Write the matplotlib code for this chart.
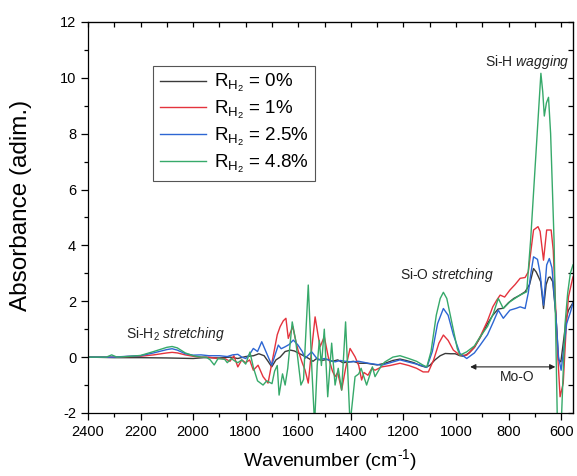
"""
    FTIR absorbance spectra for several hydrogen dilution ratios
"""

import matplotlib
matplotlib.use("Agg")
import matplotlib.pyplot as plt
from matplotlib.ticker import MultipleLocator

plt.rcParams["font.family"] = ["Liberation Sans", "DejaVu Sans"]
plt.rcParams["mathtext.fontset"] = "custom"
plt.rcParams["mathtext.rm"] = "Liberation Sans"
plt.rcParams["mathtext.it"] = "Liberation Sans:italic"
plt.rcParams["axes.unicode_minus"] = False

# R_H2 = 0%
wn_0 = [2400, 2300, 2200, 2100, 2000, 1960, 1900, 1860, 1830, 1800, 1770, 1750, 1730,
        1715, 1701, 1685, 1669, 1650, 1630, 1615, 1600, 1580, 1560, 1544, 1530, 1510,
        1490, 1470, 1450, 1430, 1410, 1390, 1370, 1340, 1300, 1270, 1240, 1213, 1190,
        1160, 1137, 1115, 1100, 1080, 1060, 1041, 1020, 1003, 985, 970, 950, 930, 908,
        880, 860, 840, 820, 800, 780, 760, 737, 720, 705, 695, 686, 678, 667, 657, 648,
        642, 632, 620, 610, 601, 592, 580, 572, 555]
abs_0 = [0, -0.02, -0.02, -0.03, -0.05, -0.02, -0.03, 0.0, -0.05, 0.02, 0.05, 0.12, 0.05,
         -0.15, -0.35, -0.1, 0.0, 0.2, 0.25, 0.22, 0.15, 0.05, -0.05, -0.15, -0.05, -0.12,
         -0.08, -0.15, -0.1, -0.2, -0.18, -0.15, -0.22, -0.22, -0.28, -0.22, -0.12, -0.07,
         -0.12, -0.2, -0.3, -0.36, -0.3, -0.1, 0.05, 0.13, 0.12, 0.12, 0.05, 0.03, 0.15,
         0.35, 0.7, 1.2, 1.5, 1.72, 1.75, 1.95, 2.1, 2.2, 2.34, 2.6, 3.17, 3.05, 2.87, 2.7,
         1.74, 2.6, 2.85, 2.87, 2.7, 1.5, -0.1, -0.17, 0.5, 1.4, 1.68, 1.95]

# R_H2 = 1%
wn_1 = [2400, 2300, 2250, 2200, 2150, 2100, 2080, 2060, 2030, 2000, 1970, 1940, 1910,
        1880, 1860, 1845, 1830, 1815, 1800, 1785, 1771, 1753, 1734, 1715, 1696, 1680,
        1669, 1657, 1647, 1638, 1631, 1621, 1610, 1601, 1585, 1574, 1562, 1550, 1536,
        1525, 1517, 1501, 1486, 1470, 1460, 1450, 1435, 1420, 1403, 1384, 1370, 1359,
        1350, 1335, 1320, 1308, 1283, 1250, 1213, 1180, 1150, 1125, 1105, 1085, 1065,
        1048, 1030, 1010, 985, 959, 930, 908, 880, 860, 845, 832, 815, 795, 775, 756,
        737, 725, 715, 705, 688, 680, 667, 655, 638, 630, 614, 604, 592, 580, 572, 555]
abs_1 = [0, 0.0, 0.02, 0.03, 0.08, 0.15, 0.17, 0.15, 0.08, 0.03, 0.0, 0.0, -0.05,
         -0.05, -0.15, 0.05, -0.35, -0.1, -0.2, -0.1, -0.47, -0.29, -0.7, -0.93, 0.01, 0.8,
         1.09, 1.3, 1.39, 0.67, 0.86, 1.09, 0.6, 0.25, -0.2, -0.47, -0.93, 0.2, 1.44,
         0.8, 0.37, 0.73, 0.01, -0.5, -0.7, -0.55, -1.18, -0.4, 0.31, 0.01, -0.3, -0.82,
         -0.55, -0.65, -0.4, -0.47, -0.35, -0.3, -0.22, -0.3, -0.4, -0.53, -0.53, -0.1, 0.5,
         0.79, 0.6, 0.25, 0.07, 0.07, 0.35, 0.73, 1.3, 1.8, 2.04, 2.22, 2.15, 2.4, 2.6, 2.82,
         2.85, 3.05, 3.8, 4.55, 4.67, 4.5, 3.47, 4.55, 4.55, 3.83, 0.25, -1.42, -0.93, 1.2,
         2.16, 2.87]

# R_H2 = 2.5%
wn_25 = [2400, 2300, 2250, 2200, 2150, 2100, 2080, 2060, 2030, 2000, 1970, 1940, 1900,
         1870, 1850, 1830, 1815, 1800, 1785, 1771, 1755, 1739, 1720, 1701, 1676, 1665,
         1650, 1635, 1619, 1601, 1585, 1574, 1549, 1525, 1500, 1480, 1460, 1440, 1420,
         1397, 1370, 1333, 1283, 1250, 1213, 1180, 1150, 1125, 1111, 1090, 1070, 1048,
         1030, 1010, 985, 959, 930, 908, 880, 858, 839, 820, 795, 770, 756, 737, 725, 715,
         705, 690, 680, 667, 655, 645, 635, 620, 610, 600, 590, 579, 565, 555]
abs_25 = [0, 0.0, 0.03, 0.05, 0.15, 0.27, 0.3, 0.25, 0.12, 0.07, 0.08, 0.05, 0.05,
          0.02, 0.08, 0.1, 0.0, -0.05, 0.1, 0.31, 0.2, 0.55, 0.13, -0.29, 0.43, 0.3,
          0.37, 0.45, 0.61, 0.43, 0.2, -0.04, 0.19, -0.1, -0.05, -0.12, -0.17, -0.12, -0.15,
          -0.17, -0.15, -0.22, -0.29, -0.2, -0.1, -0.18, -0.25, -0.32, -0.37, 0.2, 1.2, 1.74,
          1.5, 0.8, 0.13, -0.05, 0.15, 0.43, 0.8, 1.26, 1.68, 1.39, 1.68, 1.75, 1.8, 1.74,
          2.3, 3.0, 3.59, 3.5, 3.0, 1.86, 3.3, 3.53, 3.2, 1.5, 0.01, -0.47, 0.3, 1.2, 1.6,
          1.93]

# R_H2 = 4.8%
wn_48 = [2400, 2330, 2310, 2290, 2250, 2200, 2150, 2100, 2080, 2060, 2030, 2000, 1970,
         1950, 1935, 1920, 1905, 1880, 1870, 1855, 1840, 1830, 1815, 1800, 1784, 1770,
         1755, 1734, 1720, 1700, 1690, 1680, 1673, 1660, 1650, 1640, 1623, 1610, 1600,
         1590, 1580, 1562, 1548, 1538, 1528, 1520, 1512, 1501, 1488, 1473, 1460, 1448,
         1435, 1420, 1403, 1384, 1370, 1361, 1340, 1318, 1308, 1283, 1270, 1240, 1213,
         1180, 1150, 1125, 1111, 1095, 1075, 1060, 1048, 1035, 1015, 995, 985, 959, 930,
         908, 880, 858, 839, 820, 795, 760, 731, 716, 677, 670, 664, 656, 648, 640, 627,
         614, 600, 590, 585, 575, 565, 555]
abs_48 = [0, 0.0, 0.08, 0.0, 0.02, 0.06, 0.2, 0.35, 0.38, 0.33, 0.15, 0.05, 0.0,
          0.0, -0.1, -0.28, -0.05, -0.08, -0.2, -0.05, -0.15, -0.2, -0.1, -0.25, 0.18, -0.4,
          -0.85, -1.0, -0.85, -0.95, -0.5, -0.3, -1.36, -0.6, -1.0, -0.4, 1.26, 0.6, -0.2,
          -1.0, -0.8, 2.58, -0.5, -2.4, -0.3, 0.6, -0.3, 1.0, -1.42, 0.5, -1.0, -0.4,
          -1.18, 1.26, -2.4, -0.7, -0.6, -0.4, -1.0, -0.35, -0.7, -0.29, -0.17, 0.0, 0.05,
          -0.05, -0.15, -0.29, -0.35, 0.2, 1.5, 2.1, 2.32, 2.1, 1.2, 0.3, 0.07, 0.19, 0.4,
          0.73, 1.1, 1.56, 2.1, 1.74, 1.98, 2.2, 2.34, 4.2, 10.16, 9.5, 8.63, 9.1, 9.3, 8.0,
          4.2, -2.5, -2.5, 0.0, 1.2, 2.3, 3.0, 3.3]

labels = [r"$\mathregular{R_{H_2}}$ = 0%", r"$\mathregular{R_{H_2}}$ = 1%",
          r"$\mathregular{R_{H_2}}$ = 2.5%", r"$\mathregular{R_{H_2}}$ = 4.8%"]
colors = ["#3a3a3a", "#e4333d", "#2d66d3", "#36a96a"]

fig = plt.figure(figsize=(5.77, 4.76), dpi=100)
ax = fig.add_axes([0.1525, 0.1324, 0.8405, 0.8216])

series = [(wn_0, abs_0), (wn_1, abs_1), (wn_25, abs_25), (wn_48, abs_48)]
for (wn, ab), label, color in zip(series, labels, colors):
    ax.plot(wn, ab, color=color, lw=1.0, label=label)

ax.set_xlim(2400, 555)
ax.set_ylim(-2, 12)
ax.xaxis.set_major_locator(MultipleLocator(200))
ax.xaxis.set_minor_locator(MultipleLocator(100))
ax.yaxis.set_major_locator(MultipleLocator(2))
ax.yaxis.set_minor_locator(MultipleLocator(1))
ax.tick_params(which="major", direction="out", length=5, width=0.9, labelsize=10.5)
ax.tick_params(which="minor", direction="out", length=3, width=0.9)
for spine in ax.spines.values():
    spine.set_linewidth(0.9)

# mirror ticks pointing inward on top and right
top = ax.secondary_xaxis("top")
top.xaxis.set_major_locator(MultipleLocator(200))
top.xaxis.set_minor_locator(MultipleLocator(100))
top.tick_params(which="both", direction="in", length=3.5, width=0.9, labeltop=False)
right = ax.secondary_yaxis("right")
right.yaxis.set_major_locator(MultipleLocator(2))
right.yaxis.set_minor_locator(MultipleLocator(1))
right.tick_params(which="both", direction="in", length=3.5, width=0.9, labelright=False)

ax.set_xlabel(r"Wavenumber (cm$^{\mathregular{\text{-}1}}$)", fontsize=14, labelpad=6)
ax.set_ylabel("Absorbance (adim.)", fontsize=17.5)
ax.yaxis.set_label_coords(-0.115, 0.53)

leg = ax.legend(loc="upper left", bbox_to_anchor=(0.134, 0.888), borderaxespad=0,
                fontsize=13.5, handlelength=2.5, handletextpad=0.4, labelspacing=0.25,
                fancybox=False, framealpha=1, edgecolor="#555555", borderpad=0.35)
leg.get_frame().set_linewidth(0.8)

ax.text(2069, 0.82, r"Si-H$_2$ $\mathit{stretching}$", fontsize=10, ha="center",
        va="center", color="#222222")
ax.text(1035, 2.94, r"Si-O $\mathit{stretching}$", fontsize=10, ha="center",
        va="center", color="#222222")
ax.text(731, 10.55, r"Si-H $\mathit{wagging}$", fontsize=10, ha="center",
        va="center", color="#222222")
ax.annotate("", xy=(622, -0.35), xytext=(946, -0.35),
            arrowprops=dict(arrowstyle="<|-|>", lw=0.8, color="#222222",
                            mutation_scale=8, shrinkA=0, shrinkB=0))
ax.text(768, -0.71, "Mo-O", fontsize=10, ha="center", va="center", color="#222222")

fig.savefig("out.png", dpi=100)
